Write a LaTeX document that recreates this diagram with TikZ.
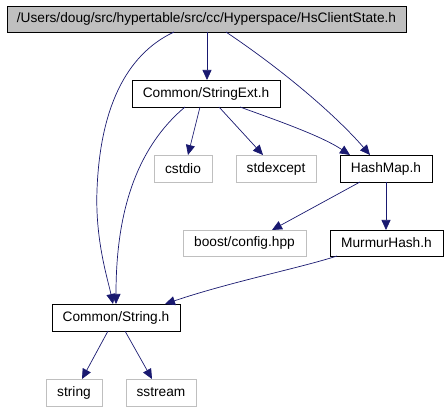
\documentclass[tikz,border=0pt]{standalone}
\usepackage{fontspec}
\setmainfont{Liberation Sans}
\usetikzlibrary{arrows.meta}
\definecolor{edgeblue}{HTML}{191970}
\definecolor{sysgray}{HTML}{BFBFBF}
\definecolor{rootgray}{HTML}{BFBFBF}
\begin{document}
\begin{tikzpicture}[x=1pt,y=-1pt,
  filebox/.style={draw=black,line width=0.8pt,inner sep=0pt,outer sep=0pt,
    font=\fontsize{13.7}{16}\selectfont,text=black},
  sysbox/.style={filebox,draw=sysgray},
  dep/.style={draw=edgeblue,line width=0.7pt,-{Triangle[length=10pt,width=9pt]}}]
\useasboundingbox (0,0) rectangle (447,411);
\node[filebox,fill=rootgray,minimum width=399pt,minimum height=26pt] (top) at (206.5,19) {/Users/doug/src/hypertable/src/cc/Hyperspace/HsClientState.h};
\node[filebox,minimum width=148pt,minimum height=27pt] (strext) at (206,93.5) {Common/StringExt.h};
\node[sysbox,minimum width=58pt,minimum height=27pt] (cstdio) at (183,168.5) {cstdio};
\node[sysbox,minimum width=80pt,minimum height=27pt] (stdexcept) at (276,168.5) {stdexcept};
\node[filebox,minimum width=92pt,minimum height=27pt] (hashmap) at (386,168.5) {HashMap.h};
\node[sysbox,minimum width=123pt,minimum height=26pt] (boost) at (244.5,243) {boost/config.hpp};
\node[filebox,minimum width=113pt,minimum height=26pt] (murmur) at (386.5,243) {MurmurHash.h};
\node[filebox,minimum width=128pt,minimum height=27pt] (strh) at (116,317.5) {Common/String.h};
\node[sysbox,minimum width=56pt,minimum height=27pt] (string) at (74,392.5) {string};
\node[sysbox,minimum width=70pt,minimum height=27pt] (sstream) at (161,392.5) {sstream};

\draw[dep] ([xshift=0.5pt]top.south) -- ([xshift=1pt]strext.north);
\draw[dep] ([xshift=-32.5pt]top.south) .. controls (125,55) and (100,110) .. (97,190)
  .. controls (95,240) and (108,280) .. ([xshift=-3pt]strh.north);
\draw[dep] ([xshift=19.5pt]top.south) .. controls (290,75) and (340,120) .. ([xshift=-16pt]hashmap.north);
\draw[dep] ([xshift=-6pt]strext.south) -- ([xshift=5pt]cstdio.north);
\draw[dep] ([xshift=13pt]strext.south) -- ([xshift=-13pt]stdexcept.north);
\draw[dep] ([xshift=34pt]strext.south) .. controls (270,118) and (320,135) .. ([xshift=-36pt]hashmap.north);
\draw[dep] ([xshift=-21pt]strext.south) .. controls (128,155) and (116,230) .. (strh.north);
\draw[dep] ([xshift=-26pt]hashmap.south) -- ([xshift=27.5pt]boost.north);
\draw[dep] (hashmap.south) -- ([xshift=-0.5pt]murmur.north);
\draw[dep] ([xshift=-49.5pt]murmur.south) .. controls (300,268) and (230,282) .. ([xshift=49pt]strh.north);
\draw[dep] ([xshift=-8pt]strh.south) -- ([xshift=8pt]string.north);
\draw[dep] ([xshift=9pt]strh.south) -- ([xshift=-9pt]sstream.north);
\end{tikzpicture}
\end{document}
